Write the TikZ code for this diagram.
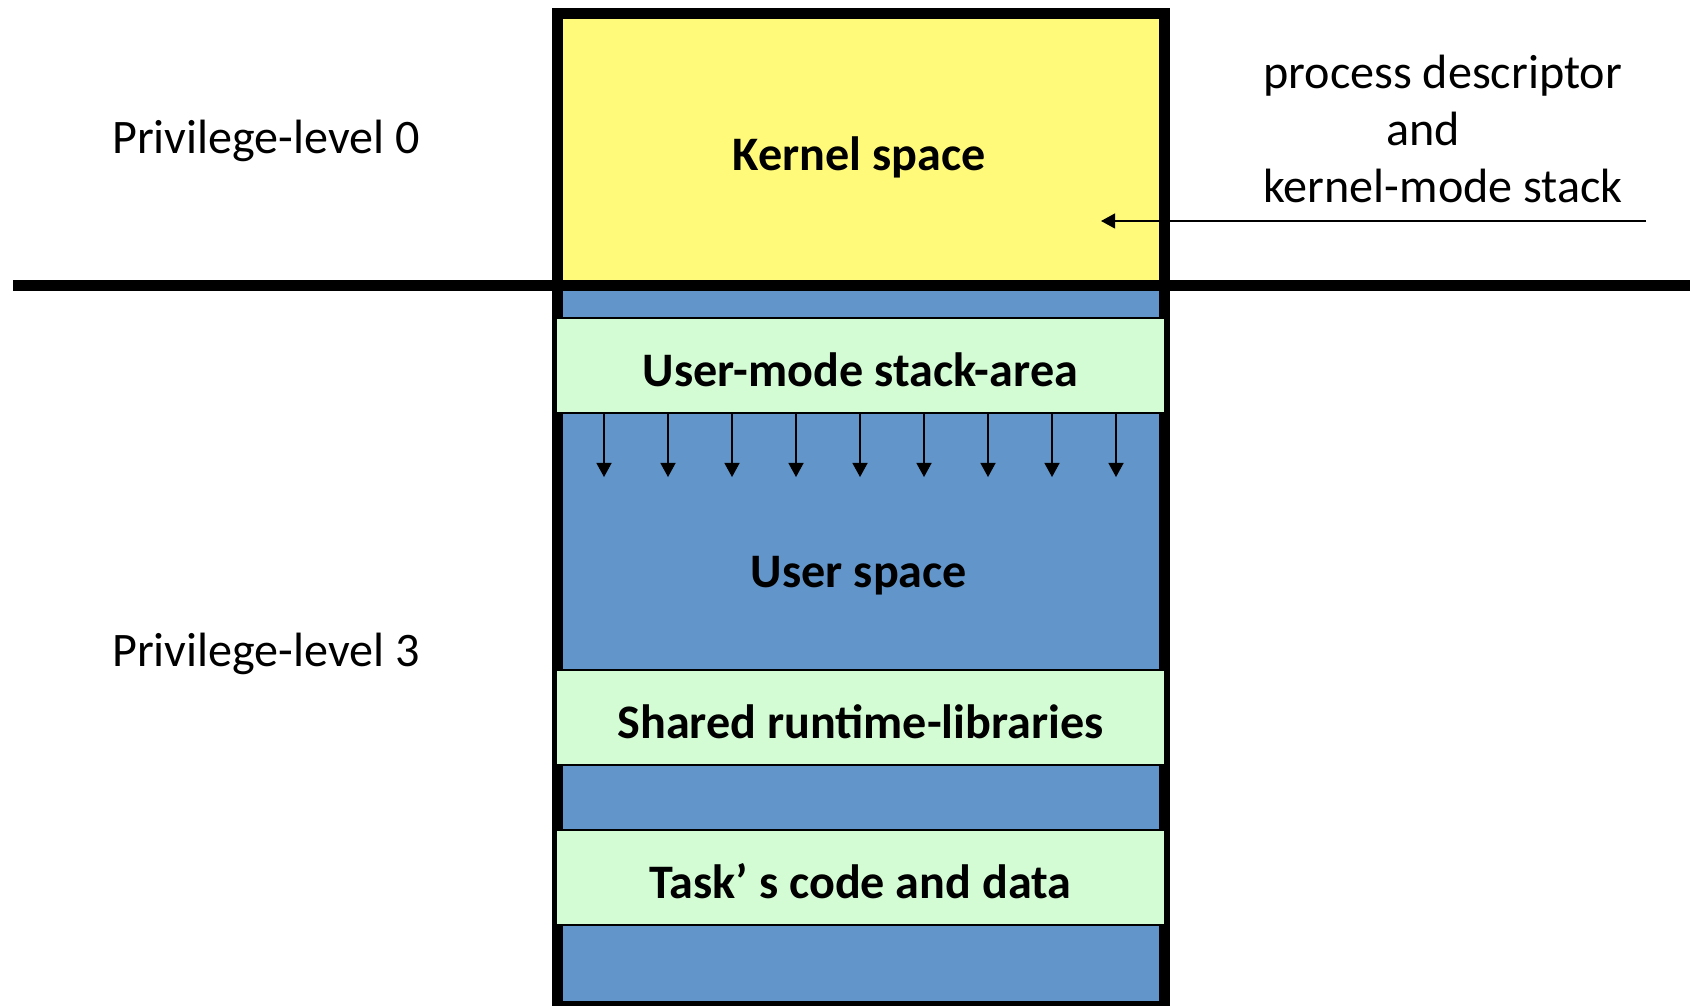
\documentclass[tikz,border=0pt]{standalone}
\usepackage{fontspec}
\setmainfont{Carlito}
\usetikzlibrary{arrows.meta}
\definecolor{kernelyellow}{RGB}{255,250,122}
\definecolor{userblue}{RGB}{98,149,201}
\definecolor{areagreen}{RGB}{212,252,212}

\begin{document}
\begin{tikzpicture}[x=0.02cm, y=-0.02cm,
		area/.style={draw=black, line width=1.2pt, fill=areagreen, minimum width=12.18cm, minimum height=1.9cm, inner sep=0pt, text height=24pt, text depth=0pt, font=\fontsize{27.4}{33}\selectfont\bfseries},
		leveltext/.style={inner sep=0pt, font=\fontsize{27.4}{33}\selectfont},
		pointer/.style={line width=0.9pt, -{Triangle[length=8pt, width=8.5pt]}},
		thick border/.style={line width=0.22cm}]
		\useasboundingbox (0,0) rectangle (1690,1006);
		\fill[kernelyellow] (557,14) rectangle (1164,285);
		\fill[userblue] (557,285) rectangle (1164,1006);
		\draw[thick border] (557,14) rectangle (1164,1006);
		\draw[thick border] (13,285.5) -- (1690,285.5);
		\node[leveltext, font=\fontsize{27.4}{33}\selectfont\bfseries] (kernel) at (859,157.5) {Kernel space};
		\node[leveltext, font=\fontsize{27.4}{33}\selectfont\bfseries] (user) at (859,575.5) {User space};
		\node[area] (stack) at (860.5,365.5) {User-mode stack-area};
		\node[area] (shared) at (860.5,717.5) {Shared runtime-libraries};
		\node[area] (task) at (860.5,877.5) {Task’ s code and data};
		\foreach \i in {0,...,8}
			\draw[pointer] (stack.south west) ++(49+64*\i,0) -- ++(0,63);
		\node[leveltext] (level0) at (266,141) {Privilege-level 0};
		\node[leveltext] (level3) at (266,653.5) {Privilege-level 3};
		\node[leveltext, align=left, font=\fontsize{27.4}{32.4}\selectfont] (desc) at (1443,129) {process descriptor\\\hspace*{2.55em}and\\kernel-mode stack};
		\coordinate (desc tail) at (1646,221);
		\coordinate (desc tip) at (1101,221);
		\draw[pointer] (desc tail) -- (desc tip);
	\end{tikzpicture}
\end{document}
